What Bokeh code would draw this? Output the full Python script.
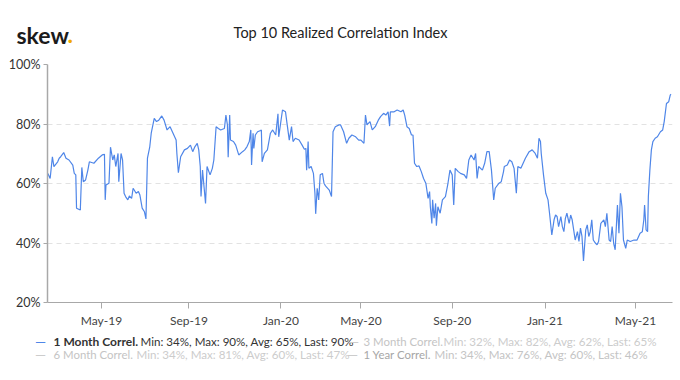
from bokeh.plotting import figure
from bokeh.layouts import column
from bokeh.models import Range1d, Label, FixedTicker, ColumnDataSource
from bokeh.embed import file_html
from bokeh.resources import INLINE

# ---- data (observation index, 1 Month realized correlation in %) ----
obs_1m = [0, 3, 6, 8, 13, 15, 17, 21, 24, 28, 33, 35, 37, 38, 43, 45, 47, 50, 53, 55,
          61, 67, 72, 75, 76, 77, 81, 83, 86, 88, 90, 93, 94, 97, 99, 101, 103, 106, 108, 111,
          113, 117, 120, 122, 125, 128, 130, 132, 135, 137, 141, 144, 147, 151, 154, 158, 162, 165, 170, 171,
          173, 176, 181, 185, 189, 192, 195, 198, 200, 202, 203, 205, 207, 209, 211, 215, 218, 220, 223, 226,
          229, 234, 236, 238, 239, 241, 242, 246, 249, 253, 258, 261, 264, 267, 269, 270, 272, 273, 275, 278,
          282, 283, 284, 287, 291, 295, 298, 302, 305, 306, 311, 315, 317, 320, 323, 325, 328, 333, 337, 340,
          342, 343, 345, 346, 349, 352, 354, 355, 357, 359, 361, 364, 366, 368, 373, 376, 378, 381, 386, 388,
          392, 396, 399, 403, 408, 412, 415, 419, 421, 423, 427, 430, 434, 438, 441, 445, 448, 451, 453, 454,
          459, 463, 468, 471, 473, 476, 479, 482, 484, 486, 489, 492, 495, 498, 501, 504, 506, 507, 509, 510,
          512, 514, 515, 517, 520, 523, 527, 530, 533, 536, 538, 540, 544, 547, 552, 555, 558, 561, 565, 567,
          569, 571, 576, 579, 582, 585, 588, 591, 593, 598, 601, 604, 605, 609, 612, 615, 618, 621, 623, 627,
          630, 633, 638, 642, 646, 649, 651, 653, 654, 657, 660, 663, 665, 668, 671, 673, 675, 677, 680, 682,
          684, 686, 688, 691, 693, 695, 697, 699, 702, 704, 706, 708, 710, 713, 715, 717, 719, 721, 723, 726,
          728, 730, 733, 737, 739, 741, 744, 746, 748, 750, 752, 755, 757, 759, 761, 763, 766, 768, 772, 777,
          781, 785, 788, 790, 791, 793, 795, 796, 798, 800, 802, 805, 808, 812, 815, 817, 820, 823, 825, 826]
corr_1m = [63.4, 61.7, 69.0, 65.7, 67.3, 68.5, 69.0, 70.4, 68.5, 67.9, 66.2, 63.4, 62.9, 51.7, 51.1, 65.4, 60.6, 61.2, 64.5, 67.3,
           66.8, 68.5, 69.6, 69.8, 54.5, 59.5, 60.1, 72.2, 67.9, 69.6, 65.7, 70.1, 60.6, 70.1, 67.9, 56.7, 55.6, 54.5, 55.8, 55.0,
           58.4, 56.7, 57.3, 56.1, 51.7, 50.5, 48.1, 68.5, 72.2, 76.9, 81.9, 80.8, 81.3, 82.7, 81.3, 78.0, 79.1, 77.4, 74.6, 70.1,
           63.6, 69.0, 71.3, 71.8, 72.9, 70.7, 72.4, 73.5, 71.3, 65.7, 55.6, 64.5, 58.9, 53.3, 65.7, 62.9, 65.1, 67.9, 79.1, 78.5,
           78.0, 78.5, 83.0, 79.7, 68.8, 83.0, 74.6, 74.1, 72.9, 69.6, 70.7, 71.3, 72.4, 74.1, 78.0, 66.2, 76.9, 71.8, 76.3, 77.4,
           77.8, 78.0, 67.3, 70.1, 71.3, 76.9, 78.0, 76.3, 83.4, 75.7, 84.7, 84.1, 80.2, 74.6, 79.1, 74.1, 75.2, 74.6, 72.9, 71.5,
           71.8, 64.5, 74.1, 65.1, 65.7, 63.4, 56.7, 49.8, 58.4, 54.5, 62.9, 63.4, 60.1, 59.2, 57.8, 55.6, 77.4, 79.1, 79.7, 79.7,
           77.4, 73.5, 75.2, 76.3, 75.7, 74.6, 74.6, 73.5, 83.0, 79.7, 80.8, 78.0, 79.1, 81.3, 82.5, 83.6, 83.0, 84.1, 79.3, 84.1,
           84.1, 84.7, 84.1, 84.7, 83.0, 79.1, 78.5, 76.3, 76.3, 66.8, 65.7, 65.9, 64.0, 61.7, 60.1, 55.0, 57.3, 52.2, 46.6, 54.5,
           48.3, 53.3, 45.8, 52.2, 50.0, 54.5, 55.6, 59.5, 64.5, 62.9, 52.8, 65.1, 64.0, 63.4, 62.9, 61.7, 67.9, 69.6, 67.9, 70.1,
           61.7, 65.7, 64.5, 66.8, 70.7, 70.7, 64.5, 54.5, 58.4, 60.1, 60.6, 64.0, 65.7, 66.2, 67.9, 67.3, 65.1, 56.7, 65.7, 65.1,
           66.8, 68.5, 70.7, 71.3, 70.1, 68.5, 75.2, 74.1, 70.1, 62.9, 56.7, 54.5, 50.0, 42.7, 47.8, 49.4, 48.9, 45.5, 48.9, 45.5,
           43.8, 48.3, 50.0, 46.6, 49.4, 47.8, 44.4, 41.0, 43.8, 40.5, 45.0, 42.2, 34.0, 44.4, 46.1, 42.2, 43.8, 47.8, 41.0, 39.9,
           39.4, 40.5, 46.6, 47.8, 45.5, 50.0, 41.0, 40.5, 45.5, 39.9, 37.7, 52.8, 43.3, 56.7, 52.2, 41.0, 38.2, 41.0, 40.5, 41.0,
           41.0, 43.3, 43.8, 47.8, 52.8, 44.4, 43.8, 55.6, 64.5, 71.3, 74.1, 75.2, 75.7, 77.4, 78.0, 80.8, 86.9, 87.5, 89.7, 90.0]

tick_obs = [71, 187, 309, 415, 536, 659, 779]
tick_labels = ["May-19", "Sep-19", "Jan-20", "May-20", "Sep-20", "Jan-21", "May-21"]
y_ticks = [20, 40, 60, 80, 100]
y_grid = [40, 60, 80, 100]

chart_title = "Top 10 Realized Correlation Index"
legend_names = ["1 Month Correl.", "3 Month Correl.", "6 Month Correl.", "1 Year Correl."]
legend_stats = ["Min: 34%, Max: 90%, Avg: 65%, Last: 90%",
                "Min: 32%, Max: 82%, Avg: 62%, Last: 65%",
                "Min: 34%, Max: 81%, Avg: 60%, Last: 47%",
                "Min: 34%, Max: 76%, Avg: 60%, Last: 46%"]

FONT = "Lato"
BLUE = "#4f86e8"
W = 676
HEAD_H = 56
MAIN_H = 276
FOOT_H = 44


def blank(height, y0):
    f = figure(width=W, height=height, output_backend="svg", toolbar_location=None,
               x_range=Range1d(0, W), y_range=Range1d(y0 + height, y0),
               x_axis_type=None, y_axis_type=None, frame_align=False,
               min_border_left=0, min_border_right=0, min_border_top=0, min_border_bottom=0)
    f.outline_line_color = None
    f.xgrid.visible = False
    f.ygrid.visible = False
    return f


def lab(fig, text, px, py, size, color, bold=False, align="left"):
    fig.add_layout(Label(x=px, y=py, text=text, text_font=FONT, text_font_size=size,
                         text_color=color, text_font_style="bold" if bold else "normal",
                         text_align=align, text_baseline="middle"))


# ---- header: logo + title ----
head = blank(HEAD_H, 0)
lab(head, "skew", 16, 34, "23px", "#1b1b1b", bold=True)
lab(head, ".", 67, 34, "23px", "#f2a900", bold=True)
lab(head, chart_title, 340, 32, "14.5px", "#222222", align="center")

# ---- main chart ----
p = figure(width=W, height=MAIN_H, output_backend="svg", toolbar_location=None,
           x_range=Range1d(-0.5, 828), y_range=Range1d(20, 100), frame_align=False,
           min_border_left=47, min_border_right=4, min_border_top=8, min_border_bottom=30)
p.outline_line_color = None

src = ColumnDataSource(dict(x=obs_1m, y=corr_1m))
p.line("x", "y", source=src, line_color=BLUE, line_width=1.2)

p.xaxis.ticker = FixedTicker(ticks=tick_obs)
p.xaxis.major_label_overrides = {t: l for t, l in zip(tick_obs, tick_labels)}
p.xaxis.minor_tick_line_color = None
p.xaxis.major_tick_out = 6
p.xaxis.major_tick_in = 0
p.xaxis.axis_line_color = "#a8a8a8"
p.xaxis.major_tick_line_color = "#a8a8a8"
p.xaxis.major_label_text_font = FONT
p.xaxis.major_label_text_font_size = "12px"
p.xaxis.major_label_text_color = "#444444"
p.xaxis.major_label_standoff = 4

p.yaxis.ticker = FixedTicker(ticks=y_ticks)
p.yaxis.major_label_overrides = {t: f"{t}%" for t in y_ticks}
p.yaxis.minor_tick_line_color = None
p.yaxis.major_tick_out = 4
p.yaxis.major_tick_in = 0
p.yaxis.axis_line_color = "#a8a8a8"
p.yaxis.axis_line_width = 1.5
p.yaxis.major_tick_line_color = "#a8a8a8"
p.yaxis.major_label_text_font = FONT
p.yaxis.major_label_text_font_size = "12.5px"
p.yaxis.major_label_text_color = "#333333"
p.yaxis.major_label_standoff = 3

p.xgrid.grid_line_color = None
p.ygrid.ticker = FixedTicker(ticks=y_grid)
p.ygrid.grid_line_color = "#e2e2e2"
p.ygrid.grid_line_dash = "5 4"

# ---- footer: legend ----
foot_y0 = HEAD_H + MAIN_H
foot = blank(FOOT_H, foot_y0)
row_y = [341, 354]
legend_pos = [(40, 53, 140), (353, 363, 443), (40, 53, 136), (352, 363, 434)]
name_sizes = ["12px", "11.4px", "11.4px", "11.4px"]
name_colors = ["#333333", "#c4c4c4", "#c4c4c4", "#a6a6a6"]
stat_colors = ["#333333", "#cccccc", "#cccccc", "#c4c4c4"]
mark_colors = [BLUE, "#cccccc", "#cccccc", "#cccccc"]
for k in range(4):
    yy = row_y[k // 2]
    mx, nx, stx = legend_pos[k]
    lab(foot, "—", mx, yy, "14px", mark_colors[k], align="center")
    lab(foot, legend_names[k], nx, yy, name_sizes[k], name_colors[k], bold=(k == 0))
    lab(foot, legend_stats[k], stx, yy, "11.6px", stat_colors[k])

layout = column(head, p, foot, spacing=0)
open("out.html", "w").write(file_html(layout, INLINE))
